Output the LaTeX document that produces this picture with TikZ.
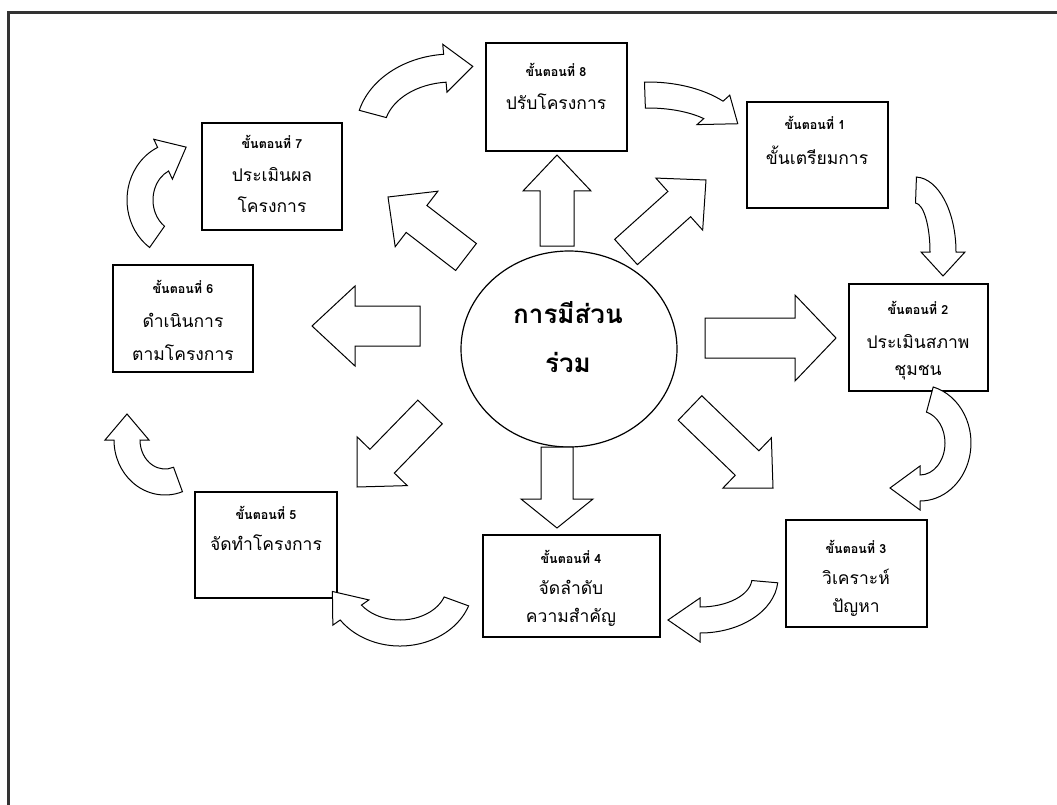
\documentclass[tikz,border=0pt]{standalone}
\usepackage{fontspec}
\newfontfamily\thai[Script=Thai]{Loma}
\usetikzlibrary{calc,shapes.geometric}
\tikzset{
  stepbox/.style={draw=black, line width=1.2pt, fill=white, inner sep=0pt},
  hd/.style={font=\thai\bfseries\fontsize{12.5}{14}\selectfont, inner sep=0pt},
  tx/.style={font=\thai\fontsize{17.5}{20}\selectfont, inner sep=0pt},
  big/.style={font=\thai\bfseries\fontsize{26}{30}\selectfont, inner sep=0pt},
  barrow/.style={draw=black, line width=1pt, fill=white, line join=miter},
  frame/.style={draw=black!80, line width=2.4pt},
}
\newcommand\blockarrow[7]{%
  \pgfmathsetmacro\baDx{#3-#1}%
  \pgfmathsetmacro\baDy{#4-#2}%
  \pgfmathsetmacro\baLen{veclen(\baDx,\baDy)}%
  \pgfmathsetmacro\baUx{\baDx/\baLen}%
  \pgfmathsetmacro\baUy{\baDy/\baLen}%
  \pgfmathsetmacro\baBx{#3-#7*\baUx}%
  \pgfmathsetmacro\baBy{#4-#7*\baUy}%
  \draw[barrow] ({#1-#5*\baUy},{#2+#5*\baUx}) -- ({\baBx-#5*\baUy},{\baBy+#5*\baUx})
    -- ({\baBx-#6*\baUy},{\baBy+#6*\baUx}) -- (#3,#4)
    -- ({\baBx+#6*\baUy},{\baBy-#6*\baUx}) -- ({\baBx+#5*\baUy},{\baBy-#5*\baUx})
    -- ({#1+#5*\baUy},{#2-#5*\baUx}) -- cycle;}
\newcommand\curvarrow[9]{%
  \pgfmathsetmacro\cvTx{-(#3)*sin(#6)}%
  \pgfmathsetmacro\cvTy{(#4)*cos(#6)}%
  \pgfmathsetmacro\cvTl{veclen(\cvTx,\cvTy)}%
  \pgfmathsetmacro\cvS{(#6>#5)?1:-1}%
  \pgfmathsetmacro\cvPx{#1+(#3)*cos(#6)+\cvS*(#7)*\cvTx/\cvTl}%
  \pgfmathsetmacro\cvPy{#2+(#4)*sin(#6)+\cvS*(#7)*\cvTy/\cvTl}%
  \draw[barrow] ({#1+(#3+#8)*cos(#5)},{#2+(#4+#8)*sin(#5)})
    arc[start angle=#5, end angle=#6, x radius=#3+#8, y radius=#4+#8]
    -- ({#1+(#3+#9)*cos(#6)},{#2+(#4+#9)*sin(#6)})
    -- (\cvPx,\cvPy)
    -- ({#1+(#3-#9)*cos(#6)},{#2+(#4-#9)*sin(#6)})
    -- ({#1+(#3-#8)*cos(#6)},{#2+(#4-#8)*sin(#6)})
    arc[start angle=#6, end angle=#5, x radius=#3-#8, y radius=#4-#8]
    -- cycle;}
\begin{document}
\begin{tikzpicture}[x=1pt,y=-1pt]
\useasboundingbox (0,0) rectangle (1057,805);
\clip (0,0) rectangle (1057,805);
\fill[white] (0,0) rectangle (1057,805);
% frame
\draw[frame] (8.5,830) -- (8.5,12.5) -- (1080,12.5);

% centre
\node[ellipse, draw=black, line width=1.2pt, fill=white, minimum width=216, minimum height=196, inner sep=0pt] (c) at (569,349) {};
\node[big] (c1) at (568,313) {การมีส่วน};
\node[big] (c2) at (568,362) {ร่วม};

% step boxes
\node[stepbox, minimum width=141, minimum height=108] (s8) at (556.5,97) {};
\node[stepbox, minimum width=141, minimum height=106] (s1) at (817.5,155) {};
\node[stepbox, minimum width=139, minimum height=107] (s2) at (918.5,337.5) {};
\node[stepbox, minimum width=141, minimum height=107] (s3) at (856.5,573.5) {};
\node[stepbox, minimum width=177, minimum height=102] (s4) at (571.5,586) {};
\node[stepbox, minimum width=142, minimum height=106] (s5) at (266,545) {};
\node[stepbox, minimum width=140, minimum height=107] (s6) at (183,318.5) {};
\node[stepbox, minimum width=140, minimum height=107] (s7) at (272,176.5) {};

\node[hd] (h8) at (556,70) {ขั้นตอนที่ 8};
\node[tx] (t8a) at (556,102) {ปรับโครงการ};
\node[hd] (h1) at (815,123) {ขั้นตอนที่ 1};
\node[tx] (t1a) at (817,155) {ขั้นเตรียมการ};
\node[hd] (h2) at (918,308) {ขั้นตอนที่ 2};
\node[tx] (t2a) at (918,342) {ประเมินสภาพ};
\node[tx] (t2b) at (918,373) {ชุมชน};
\node[hd] (h3) at (856,547) {ขั้นตอนที่ 3};
\node[tx] (t3a) at (856,577) {วิเคราะห์};
\node[tx] (t3b) at (856,607) {ปัญหา};
\node[hd] (h4) at (571,557) {ขั้นตอนที่ 4};
\node[tx] (t4a) at (571,587) {จัดลำดับ};
\node[tx] (t4b) at (571,617) {ความสำคัญ};
\node[hd] (h5) at (266,513) {ขั้นตอนที่ 5};
\node[tx] (t5a) at (266,543) {จัดทำโครงการ};
\node[hd] (h6) at (183,287) {ขั้นตอนที่ 6};
\node[tx] (t6a) at (183,320) {ดำเนินการ};
\node[tx] (t6b) at (183,353) {ตามโครงการ};
\node[hd] (h7) at (272,142) {ขั้นตอนที่ 7};
\node[tx] (t7a) at (272,175) {ประเมินผล};
\node[tx] (t7b) at (272,205) {โครงการ};

% straight block arrows from the centre
\blockarrow{557}{246}{557}{155}{17}{34}{36}
\blockarrow{557}{447}{557}{528}{16}{36}{29}
\blockarrow{705}{338}{836}{338}{20}{43}{41}
\blockarrow{420}{326}{312}{326}{20}{40}{43}
\blockarrow{626}{252}{706}{180}{17}{35}{36}
\blockarrow{466}{257}{388}{197}{17}{35}{36}
\blockarrow{430}{412}{357}{487}{17}{35}{36}
\blockarrow{690}{408}{773}{488}{17}{35}{36}

% curved arrows between steps
\curvarrow{452}{130}{82}{62}{195}{265}{28}{14}{24}
\curvarrow{648}{140}{88}{45}{268}{318}{28}{13}{22}
\curvarrow{915}{252}{28}{62}{272}{360}{24}{13}{22}
\curvarrow{920}{443}{38}{45}{285}{450}{30}{13}{22}
\curvarrow{700}{578}{65}{42}{5}{90}{32}{13}{22}
\curvarrow{400}{585}{60}{48}{20}{145}{28}{13}{22}
\curvarrow{165}{440}{38}{42}{70}{180}{26}{13}{22}
\curvarrow{180}{200}{40}{45}{125}{245}{26}{13}{22}
\end{tikzpicture}
\end{document}
